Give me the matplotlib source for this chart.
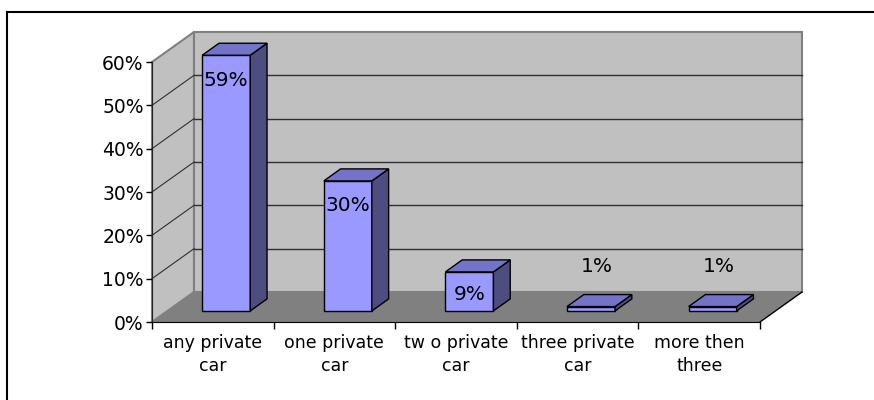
import matplotlib
matplotlib.use("Agg")
import matplotlib.pyplot as plt
from matplotlib.patches import Polygon, Rectangle
from matplotlib.ticker import PercentFormatter

plt.rcParams['font.family'] = ['DejaVu Sans']

# datos
categorias = ["any private\ncar", "one private\ncar", "tw o private\ncar",
              "three private\ncar", "more then\nthree"]
valores = [0.59, 0.30, 0.09, 0.01, 0.01]
etiquetas = ["59%", "30%", "9%", "1%", "1%"]
yticks = [0.0, 0.1, 0.2, 0.3, 0.4, 0.5, 0.6]

# desplazamiento 3D (profundidad total) en unidades de datos
DX = 42 / 121.6
DY = 30 / 433.3

def P(x, y, f):
    return (x + f * DX, y + f * DY)

fig = plt.figure(figsize=(8.74, 4.0), dpi=100)
ax = fig.add_axes([152 / 874, 78 / 400, 608 / 874, 260 / 400])
ax.set_xlim(0, len(categorias))
ax.set_ylim(0, 0.6)
ax.patch.set_visible(False)

n = len(categorias)
ymax = yticks[-1]

# paredes y suelo
suelo = Polygon([P(0, 0, 0), P(n, 0, 0), P(n, 0, 1), P(0, 0, 1)],
                closed=True, facecolor="#808080", edgecolor="none",
                clip_on=False, zorder=1)
pared_izq = Polygon([P(0, 0, 0), P(0, 0, 1), P(0, ymax, 1), P(0, ymax, 0)],
                    closed=True, facecolor="#c0c0c0", edgecolor="#808080",
                    lw=1.5, clip_on=False, zorder=1)
pared_fondo = Polygon([P(0, 0, 1), P(n, 0, 1), P(n, ymax, 1), P(0, ymax, 1)],
                      closed=True, facecolor="#c0c0c0", edgecolor="#808080",
                      lw=1.5, clip_on=False, zorder=1)
for p in (suelo, pared_izq, pared_fondo):
    ax.add_patch(p)

# borde derecho del suelo
ax.plot(*zip(P(n, 0, 0), P(n, 0, 1)), color="black", lw=1, clip_on=False, zorder=2)

# cuadricula
for v in yticks[1:-1]:
    ax.plot(*zip(P(0, v, 1), P(n, v, 1)), color="#303030", lw=1, clip_on=False, zorder=2)
    ax.plot(*zip(P(0, v, 0), P(0, v, 1)), color="#303030", lw=0.8, clip_on=False, zorder=2)

# barras
x_off, ancho = 0.285, 0.395
f0, f1 = 0.37, 0.77
for i, v in enumerate(valores):
    x0 = i + x_off
    x1 = x0 + ancho
    frente = Polygon([P(x0, 0, f0), P(x1, 0, f0), P(x1, v, f0), P(x0, v, f0)],
                     facecolor="#9999ff", edgecolor="black", lw=1,
                     clip_on=False, zorder=3)
    lado = Polygon([P(x1, 0, f0), P(x1, 0, f1), P(x1, v, f1), P(x1, v, f0)],
                   facecolor="#4d4d80", edgecolor="black", lw=1,
                   clip_on=False, zorder=3)
    tapa = Polygon([P(x0, v, f0), P(x1, v, f0), P(x1, v, f1), P(x0, v, f1)],
                   facecolor="#7373c8", edgecolor="black", lw=1,
                   clip_on=False, zorder=3)
    for p in (frente, lado, tapa):
        ax.add_patch(p)

    # etiqueta de datos
    cx, cy = P((x0 + x1) / 2, v, f0)
    if v < 0.05:
        dy = 40
        cx += 0.05
    else:
        alto_px = v * 433.3
        dy = -min(25, alto_px / 2 + 3)
    ax.annotate(etiquetas[i], xy=(cx, cy), xytext=(0, dy), textcoords="offset pixels",
                ha="center", va="center", fontsize=14.5, zorder=5,
                annotation_clip=False)

# ejes
ax.spines["top"].set_visible(False)
ax.spines["right"].set_visible(False)
ax.spines["left"].set_color("#202020")
ax.spines["bottom"].set_color("black")
ax.spines["left"].set_zorder(4)
ax.spines["bottom"].set_zorder(4)

ax.set_yticks(yticks)
ax.yaxis.set_major_formatter(PercentFormatter(1.0, decimals=0))
ax.tick_params(axis="y", direction="out", length=4, width=1, pad=2, labelsize=13.5)

ax.set_xticks(range(n + 1))
ax.set_xticklabels([])
ax.set_xticks([i + 0.5 for i in range(n)], minor=True)
ax.set_xticklabels(categorias, minor=True, fontsize=12.5, linespacing=1.3)
ax.tick_params(axis="x", which="major", direction="out", length=5, width=1)
ax.tick_params(axis="x", which="minor", length=0, pad=9)

# borde del grafico
fig.add_artist(Rectangle((7 / 874, -0.1), 1.2, 1.1 - 12 / 400, transform=fig.transFigure,
                         fill=False, edgecolor="black", lw=1.5))

fig.savefig("out.png", dpi=100)
